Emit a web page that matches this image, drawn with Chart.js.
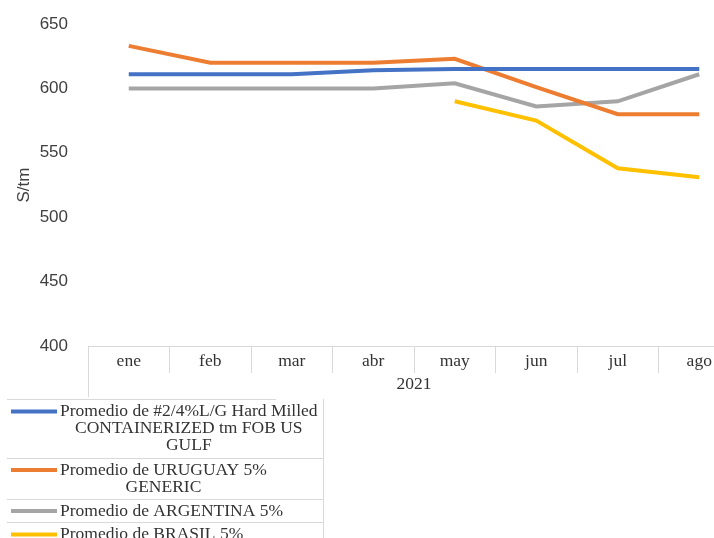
<!DOCTYPE html>
<html>
<head>
<meta charset="utf-8">
<script src="https://cdn.jsdelivr.net/npm/chart.js@4.4.0/dist/chart.umd.min.js"></script>
<style>
  html, body { margin: 0; padding: 0; background: #fff; overflow: hidden; }
  #caja { width: 745px; height: 538px; position: relative; }
</style>
</head>
<body>
<div id="caja"><canvas id="grafico"></canvas></div>
<script>
// meses de 2021
const meses = ['ene', 'feb', 'mar', 'abr', 'may', 'jun', 'jul', 'ago'];
const anio = '2021';

// precios promedio en S/tm
const usGulf = [611, 611, 611, 614, 615, 615, 615, 615];
const uruguay = [633, 620, 620, 620, 623, 601, 580, 580];
const argentina = [600, 600, 600, 600, 604, 586, 590, 611];
const brasil = [null, null, null, null, 590, 575, 538, 531];

const etiquetas = [
  ['Promedio de #2/4%L/G Hard Milled', 'CONTAINERIZED tm FOB US', 'GULF'],
  ['Promedio de URUGUAY 5%', 'GENERIC'],
  ['Promedio de ARGENTINA 5%'],
  ['Promedio de BRASIL 5%']
];
const colores = ['#4472C4', '#ED7D31', '#A5A5A5', '#FFC000'];

const ticksY = [400, 450, 500, 550, 600, 650];

const serie = (i, datos) => ({
  label: etiquetas[i],
  data: datos,
  borderColor: colores[i],
  backgroundColor: colores[i],
  borderWidth: 4,
  pointRadius: 0,
  tension: 0
});

// Dibuja la leyenda en tabla, la etiqueta del año y la línea del grupo
const extras = {
  id: 'extras',
  afterDraw(chart) {
    const c = chart.ctx;
    const x = chart.scales.x;
    const gris = '#d9d9d9';
    c.save();
    // linea izquierda del grupo
    c.strokeStyle = gris;
    c.lineWidth = 1;
    c.beginPath();
    c.moveTo(x.left + 0.5, x.top);
    c.lineTo(x.left + 0.5, 397);
    c.stroke();
    // año
    c.fillStyle = '#333';
    c.font = '17.5px "Liberation Serif"';
    c.textAlign = 'center';
    c.textBaseline = 'middle';
    c.fillText(anio, (x.left + x.right) / 2, 384);

    // leyenda
    let top = 399;
    c.beginPath();
    c.moveTo(7, top + 0.5);
    c.lineTo(276, top + 0.5);
    c.moveTo(323.5, top);
    c.lineTo(323.5, 538);
    c.stroke();
    c.font = '17.5px "Liberation Serif"';
    chart.data.datasets.forEach((ds, i) => {
      const lineas = ds.label;
      const anchos = lineas.map(l => c.measureText(l).width);
      const centro = 60 + Math.max(...anchos) / 2;
      const y0 = top + 12.5;
      c.strokeStyle = ds.borderColor;
      c.lineWidth = 4;
      c.beginPath();
      c.moveTo(11, y0);
      c.lineTo(57, y0);
      c.stroke();
      c.fillStyle = '#333';
      lineas.forEach((l, j) => c.fillText(l, centro, y0 + j * 17));
      top += 6 + lineas.length * 17.5;
      c.strokeStyle = gris;
      c.lineWidth = 1;
      c.beginPath();
      c.moveTo(7, Math.round(top) + 0.5);
      c.lineTo(323, Math.round(top) + 0.5);
      c.stroke();
    });
    c.restore();
  }
};

new Chart(document.getElementById('grafico'), {
  type: 'line',
  data: {
    labels: meses,
    datasets: [serie(0, usGulf), serie(1, uruguay), serie(2, argentina), serie(3, brasil)]
  },
  options: {
    responsive: true,
    maintainAspectRatio: false,
    animation: false,
    layout: { padding: { top: 24, right: 5, bottom: 142, left: 0 } },
    plugins: { legend: { display: false }, tooltip: { enabled: false } },
    scales: {
      x: {
        offset: true,
        grid: { offset: true, drawOnChartArea: false, drawTicks: true, tickLength: 27, color: '#d9d9d9' },
        border: { display: true, color: '#d9d9d9' },
        ticks: { padding: -22, color: '#333', font: { family: 'Liberation Serif', size: 17.5 }, maxRotation: 0 },
        afterFit(s) { s.height = 50; }
      },
      y: {
        min: 400,
        max: 650,
        afterBuildTicks(s) { s.ticks = ticksY.map(v => ({ value: v })); },
        grid: { display: false, drawTicks: false },
        border: { display: false },
        ticks: { padding: 20, color: '#404040', font: { family: 'Liberation Sans', size: 17 } },
        title: { display: true, text: 'S/tm', color: '#404040', font: { family: 'Liberation Sans', size: 17 }, padding: { top: 14, bottom: 0 } },
        afterFit(s) { s.width = 88; s.paddingTop = 0; s.paddingBottom = 0; }
      }
    }
  },
  plugins: [extras]
});
</script>
</body>
</html>
